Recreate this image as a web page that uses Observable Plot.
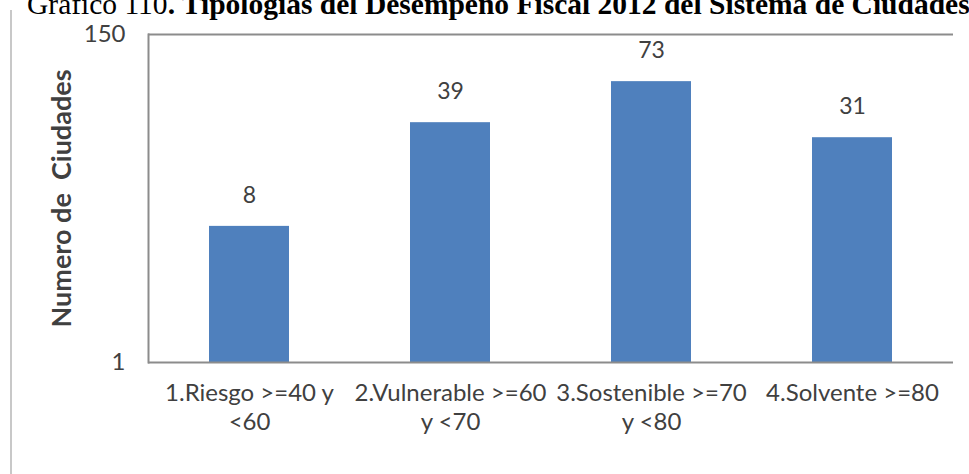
<!DOCTYPE html>
<html>
<head>
<meta charset="utf-8">
<script src="https://cdn.jsdelivr.net/npm/d3@7"></script>
<script src="https://cdn.jsdelivr.net/npm/@observablehq/plot@0.6"></script>
<style>
  html, body { margin: 0; padding: 0; background: #fff; }
  #wrap { position: relative; width: 969px; height: 474px; overflow: hidden; background: #fff; }
  #title { position: absolute; left: 27px; top: -10px; white-space: nowrap; font-family: "Liberation Serif", "Times New Roman", serif; font-size: 29.5px; line-height: 29.5px; color: #000; }
  #title b { font-weight: bold; }
  #border { position: absolute; left: 10px; top: 10px; width: 2px; height: 464px; background: #c8c8c8; }
  #chart { position: absolute; left: 0; top: 0; }
</style>
</head>
<body>
<div id="wrap">
  <div id="chart"></div>
  <div id="title">Gráfico 110<b>. Tipologías del Desempeño Fiscal 2012 del Sistema de Ciudades.</b></div>
  <div id="border"></div>
</div>
<script>
const categories = ["1.Riesgo >=40 y\n<60", "2.Vulnerable >=60\ny <70", "3.Sostenible >=70\ny <80", "4.Solvente >=80"];
const values = [8, 39, 73, 31];
const yTicks = [1, 150];
const yLabel = "Numero de  Ciudades";

const data = categories.map((c, i) => ({category: c, value: values[i]}));

const chart = Plot.plot({
  width: 969,
  height: 474,
  marginLeft: 148,
  marginRight: 16,
  marginTop: 34,
  marginBottom: 112,
  style: {fontFamily: "Lato, sans-serif", background: "transparent"},
  x: {domain: categories, paddingInner: 0.6, paddingOuter: 0.3},
  y: {type: "log", domain: [1, 150]},
  marks: [
    Plot.barY(data, {x: "category", y1: 1, y2: "value", fill: "#4f80bd"}),
    Plot.ruleY([150, 1], {stroke: "#8c8c8c", strokeWidth: 2}),
    Plot.frame({anchor: "left", stroke: "#8c8c8c", strokeWidth: 2}),
    Plot.text(data, {x: "category", y: "value", text: d => String(d.value), dy: -31, fontSize: 23, fill: "#404040"}),
    Plot.axisY({ticks: yTicks, tickFormat: d => String(d), tickSize: 0, tickPadding: 23, fontSize: 24, fill: "#404040", label: null}),
    Plot.axisX({tickSize: 0, tickPadding: 18, fontSize: 24, fill: "#404040", lineHeight: 1.2, label: null}),
    Plot.text([yLabel], {frameAnchor: "left", dx: -86, rotate: -90, textAnchor: "middle", fontSize: 27, fontWeight: "bold", fill: "#404040"})
  ]
});
document.getElementById("chart").appendChild(chart);
</script>
</body>
</html>
